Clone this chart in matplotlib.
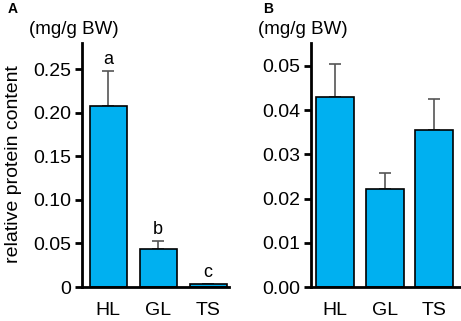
import matplotlib

matplotlib.use("Agg")

import matplotlib.pyplot as plt

plt.rcParams["font.family"] = ["Liberation Sans", "DejaVu Sans"]

# values
groups = ["HL", "GL", "TS"]
panel_a_means = [0.208, 0.044, 0.003]
panel_a_err = [0.040, 0.009, 0.001]
panel_a_letters = ["a", "b", "c"]
panel_a_ticks = [0, 0.05, 0.10, 0.15, 0.20, 0.25]
panel_a_ticklabels = ["0", "0.05", "0.10", "0.15", "0.20", "0.25"]

panel_b_means = [0.0430, 0.0222, 0.0355]
panel_b_err = [0.0075, 0.0036, 0.0071]
panel_b_ticks = [0, 0.01, 0.02, 0.03, 0.04, 0.05]
panel_b_ticklabels = ["0.00", "0.01", "0.02", "0.03", "0.04", "0.05"]

BAR_COLOR = "#00b0f0"
ERR_COLOR = "#555555"

W, H = 461, 321
fig = plt.figure(figsize=(W / 100, H / 100), dpi=100)


def px_axes(x0, x1, y_top, y_bot):
    return fig.add_axes([x0 / W, 1 - y_bot / H, (x1 - x0) / W, (y_bot - y_top) / H])


def draw_panel(ax, means, errs, ticks, ticklabels, ylim, xlim, width):
    x = list(range(len(groups)))
    ax.bar(x, means, width=width, color=BAR_COLOR, edgecolor="black", linewidth=1.2, zorder=2)
    ax.errorbar(x, means, yerr=[[0] * len(errs), errs], fmt="none", ecolor=ERR_COLOR,
                elinewidth=1.2, capsize=4, capthick=1.2, zorder=1)
    ax.set_xlim(*xlim)
    ax.set_ylim(*ylim)
    ax.set_xticks(x)
    ax.set_xticklabels(groups, fontsize=14)
    ax.set_yticks(ticks)
    ax.set_yticklabels(ticklabels, fontsize=14)
    for side in ("top", "right"):
        ax.spines[side].set_visible(False)
    for side in ("left", "bottom"):
        ax.spines[side].set_linewidth(2)
    ax.tick_params(axis="y", direction="out", length=5, width=2, pad=3)
    ax.tick_params(axis="x", length=0, pad=11)


ax_a = px_axes(82, 229, 43, 287)
draw_panel(ax_a, panel_a_means, panel_a_err, panel_a_ticks, panel_a_ticklabels,
           (0, 0.28), (-0.52, 2.42), 0.74)
for i, (m, e, s) in enumerate(zip(panel_a_means, panel_a_err, panel_a_letters)):
    ax_a.text(i, m + e + 0.003, s, ha="center", va="bottom", fontsize=13)
ax_a.set_ylabel("relative protein content", fontsize=14)
ax_a.yaxis.set_label_coords(-60 / 147, 0.505)

ax_b = px_axes(311, 460, 43, 287)
draw_panel(ax_b, panel_b_means, panel_b_err, panel_b_ticks, panel_b_ticklabels,
           (0, 0.0552), (-0.49, 2.52), 0.76)

fig.text(8 / W, 1 - 9 / H, "A", fontsize=10, fontweight="bold", ha="left", va="center")
fig.text(29 / W, 1 - 30 / H, "(mg/g BW)", fontsize=13.5, ha="left", va="center")
fig.text(263 / W, 1 - 9 / H, "B", fontsize=10, fontweight="bold", ha="left", va="center")
fig.text(258 / W, 1 - 30 / H, "(mg/g BW)", fontsize=13.5, ha="left", va="center")

fig.savefig("out.png", dpi=100)
